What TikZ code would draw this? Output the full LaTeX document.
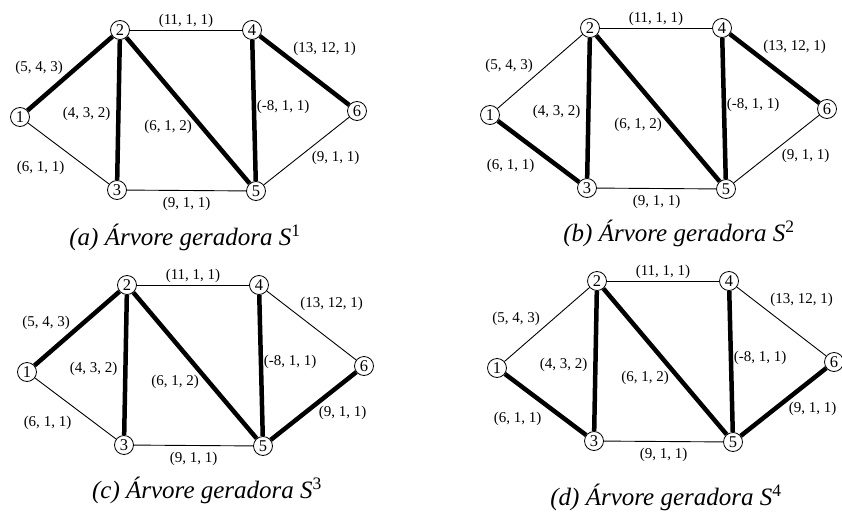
\documentclass[tikz,border=0pt]{standalone}
\usepackage{fontspec}
\setmainfont{Liberation Serif}
\usetikzlibrary{positioning}

% one panel: the graph, edges styled per panel
\newcommand{\grafo}{%
  \node[vert] (n1) at (0,0) {1};
  \node[vert] (n2) at (100,-87) {2};
  \node[vert] (n3) at (97,73) {3};
  \node[vert] (n4) at (232,-87) {4};
  \node[vert] (n5) at (236,74) {5};
  \node[vert] (n6) at (337,-6) {6};
  \draw[e12] (n1) -- node[rot, xshift=-31pt, yshift=6pt] {(5, 4, 3)} (n2);
  \draw[e13] (n1) -- node[rot, xshift=-28pt, yshift=-14pt] {(6, 1, 1)} (n3);
  \draw[e23] (n2) -- node[rot, xshift=-32pt, yshift=-4pt] {(4, 3, 2)} (n3);
  \draw[e24] (n2) -- node[rot, yshift=9pt] {(11, 1, 1)} (n4);
  \draw[e25] (n2) -- node[rot, xshift=-20pt, yshift=-16pt] {(6, 1, 2)} (n5);
  \draw[e35] (n3) -- node[rot, yshift=-13pt] {(9, 1, 1)} (n5);
  \draw[e45] (n4) -- node[rot, xshift=29pt, yshift=4pt] {(-8, 1, 1)} (n5);
  \draw[e46] (n4) -- node[rot, xshift=20pt, yshift=22pt] {(13, 12, 1)} (n6);
  \draw[e56] (n5) -- node[rot, xshift=29pt, yshift=-7pt] {(9, 1, 1)} (n6);
}

\begin{document}
\begin{tikzpicture}[
  x=1pt, y=-1pt,
  vert/.style={circle, draw, fill=white, line width=0.8pt, minimum size=19pt,
               inner sep=0pt, font=\fontsize{16.5}{17}\selectfont},
  rot/.style={font=\fontsize{15}{16}\selectfont, inner sep=0pt},
  leg/.style={font=\fontsize{25}{28}\selectfont\itshape},
  fina/.style={line width=0.9pt},
  arvore/.style={line width=4.5pt},
  e12/.style=fina, e13/.style=fina, e23/.style=fina, e24/.style=fina,
  e25/.style=fina, e35/.style=fina, e45/.style=fina, e46/.style=fina,
  e56/.style=fina
]
\useasboundingbox (0,0) rectangle (842,516);

% (a)
\begin{scope}[shift={(20,117)}, e12/.style=arvore, e23/.style=arvore,
    e25/.style=arvore, e45/.style=arvore, e46/.style=arvore]
  \grafo
  \node[leg] (lega) at (165,120) {(a) Árvore geradora S\textsuperscript{\upshape 1}};
\end{scope}

% (b)
\begin{scope}[shift={(490,115)}, e13/.style=arvore, e23/.style=arvore,
    e25/.style=arvore, e45/.style=arvore, e46/.style=arvore]
  \grafo
  \node[leg] (legb) at (189,118) {(b) Árvore geradora S\textsuperscript{\upshape 2}};
\end{scope}

% (c)
\begin{scope}[shift={(27,372)}, e12/.style=arvore, e23/.style=arvore,
    e25/.style=arvore, e45/.style=arvore, e56/.style=arvore]
  \grafo
  \node[leg] (legc) at (180,118) {(c) Árvore geradora S\textsuperscript{\upshape 3}};
\end{scope}

% (d)
\begin{scope}[shift={(497,368)}, e13/.style=arvore, e23/.style=arvore,
    e25/.style=arvore, e45/.style=arvore, e56/.style=arvore]
  \grafo
  \node[leg] (legd) at (169,129) {(d) Árvore geradora S\textsuperscript{\upshape 4}};
\end{scope}

\end{tikzpicture}
\end{document}
